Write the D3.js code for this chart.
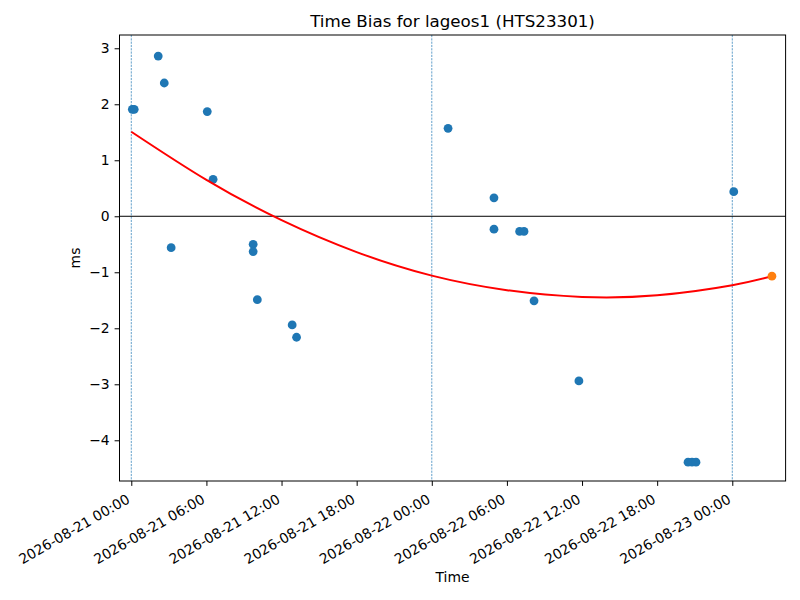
<!DOCTYPE html>
<html lang="en">
<head>
  <meta charset="UTF-8">
  <title>Time Bias</title>
  <script src="https://d3js.org/d3.v7.min.js"></script>
  <style>
    body { margin: 0; background: #fff; }
    text { font-family: "DejaVu Sans", sans-serif; fill: #000; }
  </style>
</head>
<body>
<script>
  // observations (UTC time, bias in ms)
  const obsTimes = [
    "2026-08-21 00:05", "2026-08-21 00:14", "2026-08-21 02:09", "2026-08-21 02:38",
    "2026-08-21 03:11", "2026-08-21 06:04", "2026-08-21 06:32", "2026-08-21 09:44",
    "2026-08-21 09:44", "2026-08-21 10:04", "2026-08-21 12:51", "2026-08-21 13:12",
    "2026-08-22 01:18", "2026-08-22 04:58", "2026-08-22 04:58", "2026-08-22 07:01",
    "2026-08-22 07:22", "2026-08-22 08:10", "2026-08-22 11:45", "2026-08-22 20:28",
    "2026-08-22 20:47", "2026-08-22 21:06", "2026-08-23 00:07"
  ];
  const obsBias = [
    1.91, 1.91, 2.86, 2.38,
    -0.56, 1.87, 0.66, -0.50,
    -0.63, -1.49, -1.94, -2.16,
    1.57, 0.33, -0.23, -0.27,
    -0.27, -1.51, -2.94, -4.39,
    -4.39, -4.39, 0.44
  ];

  // fitted curve
  const fitTimes = [
    "2026-08-21 00:00", "2026-08-21 06:00", "2026-08-21 12:00", "2026-08-21 18:00",
    "2026-08-22 00:00", "2026-08-22 06:00", "2026-08-22 12:00", "2026-08-22 18:00",
    "2026-08-23 00:00", "2026-08-23 03:10"
  ];
  const fitBias = [1.51, 0.65, -0.07, -0.64, -1.06, -1.32, -1.44, -1.41, -1.23, -1.07];

  // predicted point
  const predTime = "2026-08-23 03:10";
  const predBias = -1.07;

  // day boundaries
  const dayLines = ["2026-08-21 00:00", "2026-08-22 00:00", "2026-08-23 00:00"];

  const xTicks = [
    "2026-08-21 00:00", "2026-08-21 06:00", "2026-08-21 12:00", "2026-08-21 18:00",
    "2026-08-22 00:00", "2026-08-22 06:00", "2026-08-22 12:00", "2026-08-22 18:00",
    "2026-08-23 00:00"
  ];
  const yTicks = [3, 2, 1, 0, -1, -2, -3, -4];

  const parse = d3.utcParse("%Y-%m-%d %H:%M");
  const fmt = d3.utcFormat("%Y-%m-%d %H:%M");

  const width = 800, height = 600;
  const margin = {left: 119.5, right: 14.4, top: 35, bottom: 119};

  const svg = d3.select("body").append("svg")
      .attr("width", width)
      .attr("height", height);

  const x = d3.scaleUtc()
      .domain([new Date(Date.UTC(2026, 7, 20, 23, 3, 30)), new Date(Date.UTC(2026, 7, 23, 4, 15, 30))])
      .range([margin.left, width - margin.right]);
  const y = d3.scaleLinear()
      .domain([-4.727, 3.237])
      .range([height - margin.bottom, margin.top]);

  const plot = svg.append("g");

  // vertical dashed lines at midnight
  plot.selectAll("line.day")
      .data(dayLines)
      .enter().append("line")
      .attr("class", "day")
      .attr("x1", d => x(parse(d))).attr("x2", d => x(parse(d)))
      .attr("y1", margin.top).attr("y2", height - margin.bottom)
      .attr("stroke", "#1f77b4")
      .attr("stroke-width", 0.7)
      .attr("stroke-dasharray", "2.2,1.1");

  // zero line
  plot.append("line")
      .attr("x1", margin.left).attr("x2", width - margin.right)
      .attr("y1", y(0)).attr("y2", y(0))
      .attr("stroke", "#000")
      .attr("stroke-width", 1);

  // observations
  const obs = obsTimes.map((t, i) => ({t: parse(t), v: obsBias[i]}));
  plot.selectAll("circle.obs")
      .data(obs)
      .enter().append("circle")
      .attr("class", "obs")
      .attr("cx", d => x(d.t))
      .attr("cy", d => y(d.v))
      .attr("r", 4.4)
      .attr("fill", "#1f77b4");

  // fit curve
  const fit = fitTimes.map((t, i) => ({t: parse(t), v: fitBias[i]}));
  const line = d3.line()
      .x(d => x(d.t))
      .y(d => y(d.v))
      .curve(d3.curveNatural);
  plot.append("path")
      .datum(fit)
      .attr("d", line)
      .attr("fill", "none")
      .attr("stroke", "#ff0000")
      .attr("stroke-width", 2);

  // prediction
  plot.append("circle")
      .attr("cx", x(parse(predTime)))
      .attr("cy", y(predBias))
      .attr("r", 4.4)
      .attr("fill", "#ff7f0e");

  // axes
  const xAxis = svg.append("g")
      .attr("transform", `translate(0,${height - margin.bottom})`)
      .call(d3.axisBottom(x)
          .tickValues(xTicks.map(parse))
          .tickFormat(fmt)
          .tickSize(4.9)
          .tickPadding(0));
  xAxis.select(".domain").remove();
  xAxis.selectAll("line").attr("stroke", "#000").attr("stroke-width", 1);
  xAxis.selectAll("text")
      .attr("font-size", "13.9px")
      .attr("font-family", "DejaVu Sans")
      .attr("text-anchor", "end")
      .attr("y", 0)
      .attr("dy", 0)
      .attr("transform", "translate(-1,21) rotate(-30)");

  const yAxis = svg.append("g")
      .attr("transform", `translate(${margin.left},0)`)
      .call(d3.axisLeft(y)
          .tickValues(yTicks)
          .tickFormat(d => d < 0 ? "\u2212" + Math.abs(d) : d)
          .tickSize(4.9)
          .tickPadding(4.9));
  yAxis.select(".domain").remove();
  yAxis.selectAll("line").attr("stroke", "#000").attr("stroke-width", 1);
  yAxis.selectAll("text")
      .attr("font-size", "13.9px")
      .attr("font-family", "DejaVu Sans");

  // frame
  svg.append("rect")
      .attr("x", margin.left).attr("y", margin.top)
      .attr("width", width - margin.left - margin.right)
      .attr("height", height - margin.top - margin.bottom)
      .attr("fill", "none")
      .attr("stroke", "#000")
      .attr("stroke-width", 1);

  // labels
  svg.append("text")
      .attr("x", (margin.left + width - margin.right) / 2)
      .attr("y", 27)
      .attr("text-anchor", "middle")
      .attr("font-size", "16.7px")
      .text("Time Bias for lageos1 (HTS23301)");

  svg.append("text")
      .attr("x", (margin.left + width - margin.right) / 2)
      .attr("y", 582)
      .attr("text-anchor", "middle")
      .attr("font-size", "13.9px")
      .text("Time");

  svg.append("text")
      .attr("transform", `translate(80,${(margin.top + height - margin.bottom) / 2}) rotate(-90)`)
      .attr("text-anchor", "middle")
      .attr("font-size", "13.9px")
      .text("ms");
</script>
</body>
</html>
